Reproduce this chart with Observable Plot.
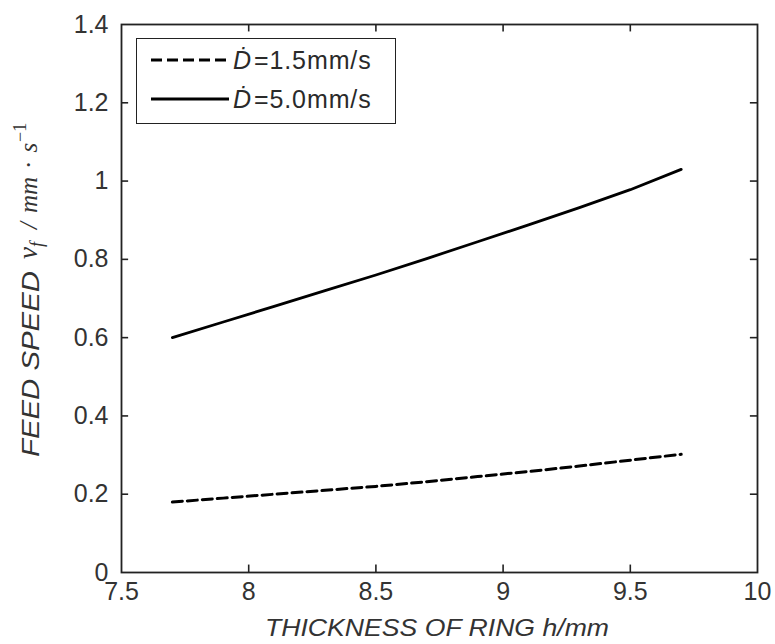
<!DOCTYPE html>
<html><head><meta charset="utf-8">
<script src="https://cdn.jsdelivr.net/npm/d3@7"></script>
<script src="https://cdn.jsdelivr.net/npm/@observablehq/plot@0.6"></script>
<style>
body{margin:0;background:#fff}
#chart{position:relative;width:775px;height:644px;font-family:"Liberation Sans",Arial,sans-serif}
#legend{position:absolute;left:136px;top:38px;width:260px;height:86px;border:1.6px solid #222;background:#fff;box-sizing:border-box}
.lrow{position:absolute;left:0;height:30px;display:flex;align-items:center;white-space:nowrap}
.lrow span{font-size:25px;color:#2a2a2a;margin-left:2px;letter-spacing:0.9px}
</style>
</head><body><div id="chart"><div id="legend"></div></div>
<script>
// Series: D = 1.5 mm/s (dashed)
const thicknessSlow = [7.7, 7.9, 8.1, 8.3, 8.5, 8.7, 8.9, 9.1, 9.3, 9.5, 9.7];
const speedSlow     = [0.180, 0.190, 0.200, 0.210, 0.220, 0.232, 0.245, 0.258, 0.272, 0.287, 0.302];
// Series: D = 5.0 mm/s (solid)
const thicknessFast = [7.7, 7.9, 8.1, 8.3, 8.5, 8.7, 8.9, 9.1, 9.3, 9.5, 9.7];
const speedFast     = [0.600, 0.640, 0.680, 0.720, 0.760, 0.802, 0.845, 0.888, 0.932, 0.978, 1.030];
const seriesLabels  = ["=1.5mm/s", "=5.0mm/s"];
const xTicks = [7.5, 8, 8.5, 9, 9.5, 10];
const yTicks = [0, 0.2, 0.4, 0.6, 0.8, 1, 1.2, 1.4];

const slow = thicknessSlow.map((x, i) => ({x, y: speedSlow[i]}));
const fast = thicknessFast.map((x, i) => ({x, y: speedFast[i]}));

const ink = "#222";
const txt = "#333";
const plot = Plot.plot({
  width: 775, height: 644,
  marginLeft: 121, marginRight: 18, marginTop: 24, marginBottom: 72,
  style: {fontFamily: "Liberation Sans, Arial, sans-serif", background: "#fff"},
  x: {domain: [7.5, 10], ticks: xTicks, label: null},
  y: {domain: [0, 1.4], ticks: yTicks, label: null},
  marks: [
    Plot.axisX(xTicks, {anchor: "bottom", tickSize: 0, tickPadding: 10, fontSize: 25, fill: txt, label: null, tickFormat: d => String(d)}),
    Plot.axisY(yTicks, {anchor: "left", tickSize: 0, tickPadding: 13, fontSize: 25, fill: txt, label: null, tickFormat: d => String(d)}),
    Plot.ruleX(xTicks.slice(1, -1), {y1: 0, y2: 0.019, stroke: ink, strokeWidth: 1.6}),
    Plot.ruleX(xTicks.slice(1, -1), {y1: 1.381, y2: 1.4, stroke: ink, strokeWidth: 1.6}),
    Plot.ruleY(yTicks.slice(1, -1), {x1: 7.5, x2: 7.528, stroke: ink, strokeWidth: 1.6}),
    Plot.ruleY(yTicks.slice(1, -1), {x1: 9.972, x2: 10, stroke: ink, strokeWidth: 1.6}),
    Plot.line(slow, {x: "x", y: "y", stroke: "#000", strokeWidth: 3, strokeDasharray: "10,5"}),
    Plot.line(fast, {x: "x", y: "y", stroke: "#000", strokeWidth: 2.8}),
    Plot.frame({stroke: ink, strokeWidth: 1.8})
  ]
});
document.getElementById("chart").prepend(plot);

const svg = d3.select(plot);
const serif = "Liberation Serif, serif";
// Y label: sans part
svg.append("text")
  .attr("transform", "translate(39,364) rotate(-90)")
  .attr("text-anchor", "middle")
  .attr("fill", txt)
  .attr("textLength", 186).attr("lengthAdjust", "spacingAndGlyphs")
  .style("font-size", "23px").style("font-style", "italic")
  .text("FEED SPEED");
// Y label: math part
const ym = svg.append("text")
  .attr("transform", "translate(37,259) rotate(-90)")
  .attr("text-anchor", "start")
  .attr("fill", txt)
  .style("font-family", serif).style("font-style", "italic");
ym.append("tspan").style("font-size", "27px").text("v");
ym.append("tspan").attr("dy", 6).style("font-size", "18px").text("f");
ym.append("tspan").attr("dy", -6).attr("dx", 13).style("font-size", "25px").text("/");
ym.append("tspan").attr("dx", 9).style("font-size", "25px").text("mm");
ym.append("tspan").attr("dx", 8).style("font-size", "25px").style("font-style", "normal").text("\u00B7");
ym.append("tspan").attr("dx", 8).style("font-size", "25px").text("s");
ym.append("tspan").attr("dx", 1).attr("dy", -11).style("font-size", "18px").style("font-style", "normal").text("\u22121");

// X label
svg.append("text")
  .attr("x", 437).attr("y", 636)
  .attr("text-anchor", "middle")
  .attr("fill", txt)
  .attr("textLength", 344).attr("lengthAdjust", "spacingAndGlyphs")
  .style("font-size", "24px").style("font-style", "italic")
  .text("THICKNESS OF RING h/mm");

// Legend
const legend = d3.select("#legend");
[["11,5", 3], [null, 2.8]].forEach(([dash, w], i) => {
  const row = legend.append("div").attr("class", "lrow").style("top", (i === 0 ? 6 : 45) + "px").style("left", "12px");
  const s = row.append("svg").attr("width", 82).attr("height", 30);
  s.append("line").attr("x1", 2).attr("x2", 80).attr("y1", 15).attr("y2", 15)
    .attr("stroke", "#000").attr("stroke-width", w).attr("stroke-dasharray", dash);
  const t = row.append("span");
  t.append("i").style("font-family", "Liberation Sans, DejaVu Sans, sans-serif").text("\u1E0A");
  t.append("span").text(seriesLabels[i]);
});
</script>
</body></html>
